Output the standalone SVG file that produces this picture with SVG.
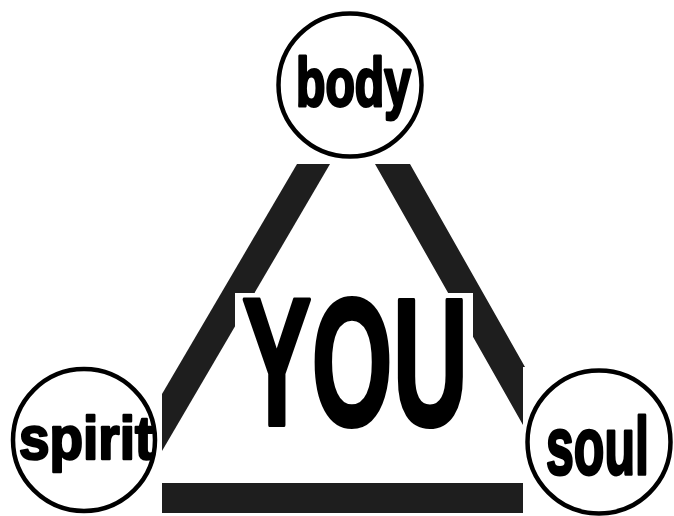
<svg xmlns="http://www.w3.org/2000/svg" width="674" height="516" viewBox="0 0 674 516">
<style>
.bar{fill:#1e1e1e}
.ring{fill:#fff;stroke:#000;stroke-width:4.5}
.lbl{font-family:"Liberation Sans",Arial,sans-serif;font-weight:bold;fill:#000;stroke:#000;stroke-width:3;stroke-linejoin:round}
</style>
<rect width="674" height="516" fill="#fff"/>
<g id="connectors">
<polygon class="bar" points="297,164 330,164 162,451 162,394"/>
<polygon class="bar" points="375,164 410,164 525,367 523,367 523,425"/>
<rect class="bar" x="162" y="483" width="361" height="30"/>
</g>
<g id="you">
<rect x="235" y="293" width="238" height="180" fill="#fff"/>
<text class="lbl" transform="translate(242,425) scale(0.573,1)" x="0" y="0" font-size="182" style="stroke-width:4">YOU</text>
</g>
<g id="body">
<circle class="ring" cx="350" cy="85" r="71.5"/>
<text class="lbl" transform="translate(296,106) scale(0.708,1)" x="0" y="0" font-size="68">body</text>
</g>
<g id="spirit">
<circle class="ring" cx="84" cy="440" r="71"/>
<text class="lbl" transform="translate(19,459) scale(0.9,1)" x="0" y="0" font-size="61" style="stroke-width:2.5">spirit</text>
</g>
<g id="soul">
<circle class="ring" cx="599" cy="442" r="71.5"/>
<text class="lbl" transform="translate(546,474) scale(0.611,1)" x="0" y="0" font-size="82">soul</text>
</g>
</svg>
